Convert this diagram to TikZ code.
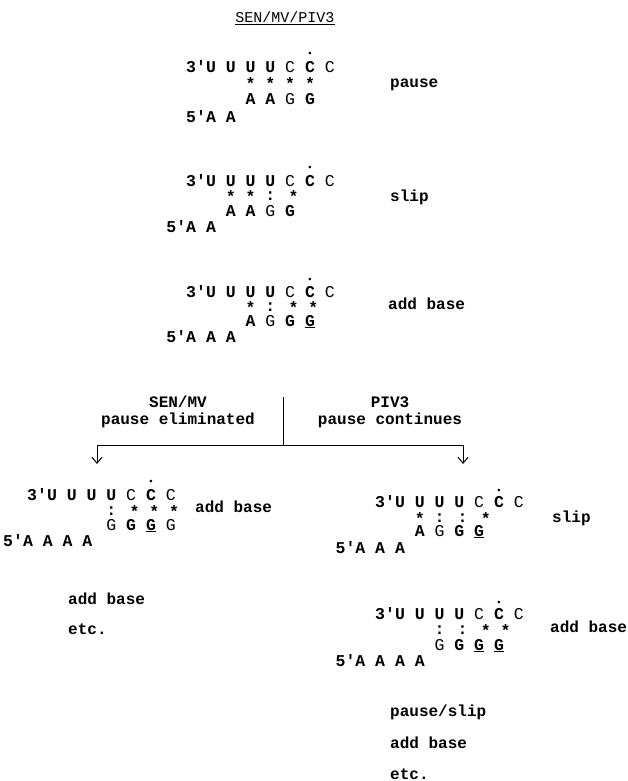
\documentclass[tikz,border=0pt]{standalone}
\usepackage{fontspec}
\newfontfamily\cour{Liberation Mono}[Ligatures=TeXOff]
\usetikzlibrary{arrows.meta}
\newcommand\SSt{\textbf{\raisebox{-2.5pt}{*}}}
\newcommand\CCo{\textbf{:}}
\newcommand\UG{\underline{\textbf{G}}}
\tikzset{
  seq/.style={inner sep=0pt, anchor=base west, font=\cour\fontsize{16.5}{18}\selectfont},
  lbl/.style={inner sep=0pt, anchor=base west, font=\cour\bfseries\fontsize{16}{18}\selectfont},
  hdr/.style={inner sep=0pt, anchor=center, align=center, font=\cour\bfseries\fontsize{16}{17}\selectfont},
  ttl/.style={inner sep=0pt, anchor=center, font=\cour\fontsize{15}{17}\selectfont},
  pdot/.style={circle, fill, inner sep=0pt, minimum size=3pt},
  conn/.style={line width=1pt},
  arr/.style={line width=1pt, -{Straight Barb[length=6pt,width=10pt]}}
}
\begin{document}
\begin{tikzpicture}[x=1pt,y=-1pt]
\useasboundingbox (0,0) rectangle (627,781);
\node[ttl] (title) at (285,18) {\underline{SEN/MV/PIV3}};
% Block 1
\node[pdot] (d1) at (309.8,53) {};
\node[seq] (b1a) at (186,73) {\textbf{3'U U U U} C \textbf{C} C};
\node[seq] (b1b) at (245.4,87) {\SSt{} \SSt{} \SSt{} \SSt};
\node[seq] (b1c) at (245.4,105) {\textbf{A A} G \textbf{G}};
\node[seq] (b1d) at (186,122) {\textbf{5'A A}};
\node[lbl] (l1) at (390,88) {pause};
% Block 2
\node[pdot] (d2) at (309.8,167) {};
\node[seq] (b2a) at (186,186) {\textbf{3'U U U U} C \textbf{C} C};
\node[seq] (b2b) at (225.6,200) {\SSt{} \SSt{} \CCo{} \SSt};
\node[seq] (b2c) at (225.6,216) {\textbf{A A} G \textbf{G}};
\node[seq] (b2d) at (166.2,232) {\textbf{5'A A}};
\node[lbl] (l2) at (390,201) {slip};
% Block 3
\node[pdot] (d3) at (309.8,279) {};
\node[seq] (b3a) at (186,297) {\textbf{3'U U U U} C \textbf{C} C};
\node[seq] (b3b) at (245.4,311) {\SSt{} \CCo{} \SSt{} \SSt};
\node[seq] (b3c) at (245.4,326) {\textbf{A} G \textbf{G} \UG};
\node[seq] (b3d) at (166.2,342) {\textbf{5'A A A}};
\node[lbl] (l3) at (388,309) {add base};
% Branch
\node[hdr] (hl) at (178,412) {SEN/MV\\pause eliminated};
\node[hdr] (hr) at (390,412) {PIV3\\pause continues};
\coordinate (vtop) at (283,397);
\coordinate (jn) at (283,445);
\coordinate (lc) at (97,445);
\coordinate (rc) at (463,445);
\coordinate (la) at (97,464);
\coordinate (ra) at (463,464);
\draw[conn] (vtop) -- (jn);
\draw[conn] (lc) -- (rc);
\draw[arr] (lc) -- (la);
\draw[arr] (rc) -- (ra);
% Block 4
\node[pdot] (d4) at (150.8,481) {};
\node[seq] (b4a) at (27,500) {\textbf{3'U U U U} C \textbf{C} C};
\node[seq] (b4b) at (106.2,515) {\CCo{} \SSt{} \SSt{} \SSt};
\node[seq] (b4c) at (106.2,530) {G \textbf{G} \UG{} G};
\node[seq] (b4d) at (3,546) {\textbf{5'A A A A}};
\node[lbl] (l4) at (195,512) {add base};
\node[lbl] (l4b) at (68,604) {add base};
\node[lbl] (l4c) at (68,634) {etc.};
% Block 5
\node[pdot] (d5) at (498.8,490) {};
\node[seq] (b5a) at (375,507) {\textbf{3'U U U U} C \textbf{C} C};
\node[seq] (b5b) at (414.6,522) {\SSt{} \CCo{} \CCo{} \SSt};
\node[seq] (b5c) at (414.6,536) {\textbf{A} G \textbf{G} \UG};
\node[seq] (b5d) at (335.4,553) {\textbf{5'A A A}};
\node[lbl] (l5) at (552,522) {slip};
% Block 6
\node[pdot] (d6) at (498.8,602) {};
\node[seq] (b6a) at (375,619) {\textbf{3'U U U U} C \textbf{C} C};
\node[seq] (b6b) at (434.4,634) {\CCo{} \CCo{} \SSt{} \SSt};
\node[seq] (b6c) at (434.4,650) {G \textbf{G} \UG{} \UG};
\node[seq] (b6d) at (335.4,666) {\textbf{5'A A A A}};
\node[lbl] (l6) at (550,632) {add base};
\node[lbl] (l6b) at (390,716) {pause/slip};
\node[lbl] (l6c) at (390,748) {add base};
\node[lbl] (l6d) at (390,779) {etc.};
\end{tikzpicture}
\end{document}
